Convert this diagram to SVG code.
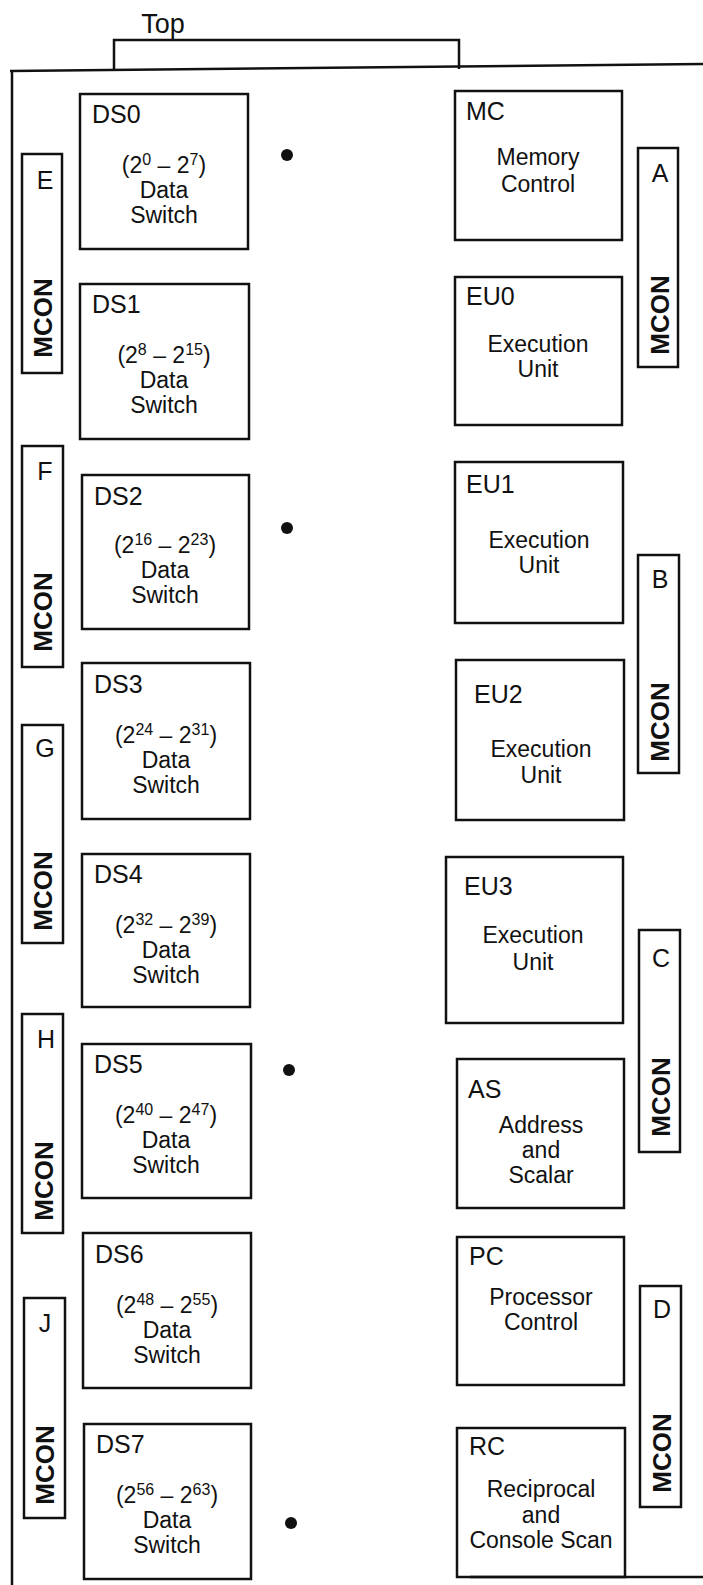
<svg xmlns="http://www.w3.org/2000/svg" width="703" height="1585" viewBox="0 0 703 1585">
<style>
.bx{fill:none;stroke:#111;stroke-width:2.5}
.ln{fill:none;stroke:#111;stroke-width:2.5}
text{font-family:"Liberation Sans",Arial,sans-serif;fill:#111}
.lab{font-size:25px}
.body{font-size:23px;text-anchor:middle}
.sup{font-size:16px}
.mc{font-size:26px;font-weight:bold;text-anchor:middle}
.let{font-size:25px;text-anchor:middle}
.dot{fill:#111}
</style>
<rect width="703" height="1585" fill="#fff"/>
<g id="frame">
<text x="163" y="33" font-size="27" text-anchor="middle">Top</text>
<polyline class="ln" points="114,70 114,40 459,40 459,69"/>
<polyline class="ln" points="10,71 703,64"/>
<line class="ln" x1="12" y1="70" x2="12" y2="1585"/>
<line class="ln" x1="470" y1="1577" x2="703" y2="1577"/>
</g>
<g id="connectors"></g>
<g id="DS0"><rect class="bx" x="80" y="94" width="168" height="155"/><text class="lab" x="92" y="123">DS0</text><text class="body" x="164" y="173">(2<tspan class="sup" dy="-8">0</tspan><tspan dy="8"> – 2</tspan><tspan class="sup" dy="-8">7</tspan><tspan dy="8">)</tspan></text><text class="body" x="164" y="198">Data</text><text class="body" x="164" y="223">Switch</text></g>
<g id="DS1"><rect class="bx" x="80" y="284" width="169" height="155"/><text class="lab" x="92" y="313">DS1</text><text class="body" x="164" y="363">(2<tspan class="sup" dy="-8">8</tspan><tspan dy="8"> – 2</tspan><tspan class="sup" dy="-8">15</tspan><tspan dy="8">)</tspan></text><text class="body" x="164" y="388">Data</text><text class="body" x="164" y="413">Switch</text></g>
<g id="DS2"><rect class="bx" x="82" y="475" width="167" height="154"/><text class="lab" x="94" y="505">DS2</text><text class="body" x="165" y="553">(2<tspan class="sup" dy="-8">16</tspan><tspan dy="8"> – 2</tspan><tspan class="sup" dy="-8">23</tspan><tspan dy="8">)</tspan></text><text class="body" x="165" y="578">Data</text><text class="body" x="165" y="603">Switch</text></g>
<g id="DS3"><rect class="bx" x="82" y="663" width="168" height="156"/><text class="lab" x="94" y="693">DS3</text><text class="body" x="166" y="743">(2<tspan class="sup" dy="-8">24</tspan><tspan dy="8"> – 2</tspan><tspan class="sup" dy="-8">31</tspan><tspan dy="8">)</tspan></text><text class="body" x="166" y="768">Data</text><text class="body" x="166" y="793">Switch</text></g>
<g id="DS4"><rect class="bx" x="82" y="854" width="168" height="153"/><text class="lab" x="94" y="883">DS4</text><text class="body" x="166" y="933">(2<tspan class="sup" dy="-8">32</tspan><tspan dy="8"> – 2</tspan><tspan class="sup" dy="-8">39</tspan><tspan dy="8">)</tspan></text><text class="body" x="166" y="958">Data</text><text class="body" x="166" y="983">Switch</text></g>
<g id="DS5"><rect class="bx" x="82" y="1044" width="169" height="154"/><text class="lab" x="94" y="1073">DS5</text><text class="body" x="166" y="1123">(2<tspan class="sup" dy="-8">40</tspan><tspan dy="8"> – 2</tspan><tspan class="sup" dy="-8">47</tspan><tspan dy="8">)</tspan></text><text class="body" x="166" y="1148">Data</text><text class="body" x="166" y="1173">Switch</text></g>
<g id="DS6"><rect class="bx" x="83" y="1233" width="168" height="155"/><text class="lab" x="95" y="1263">DS6</text><text class="body" x="167" y="1313">(2<tspan class="sup" dy="-8">48</tspan><tspan dy="8"> – 2</tspan><tspan class="sup" dy="-8">55</tspan><tspan dy="8">)</tspan></text><text class="body" x="167" y="1338">Data</text><text class="body" x="167" y="1363">Switch</text></g>
<g id="DS7"><rect class="bx" x="84" y="1424" width="167" height="155"/><text class="lab" x="96" y="1453">DS7</text><text class="body" x="167" y="1503">(2<tspan class="sup" dy="-8">56</tspan><tspan dy="8"> – 2</tspan><tspan class="sup" dy="-8">63</tspan><tspan dy="8">)</tspan></text><text class="body" x="167" y="1528">Data</text><text class="body" x="167" y="1553">Switch</text></g>
<g id="MC"><rect class="bx" x="455" y="91" width="167" height="149"/><text class="lab" x="466" y="120">MC</text><text class="body" x="538" y="165">Memory</text><text class="body" x="538" y="192">Control</text></g>
<g id="EU0"><rect class="bx" x="455" y="277" width="167" height="148"/><text class="lab" x="466" y="305">EU0</text><text class="body" x="538" y="352">Execution</text><text class="body" x="538" y="377">Unit</text></g>
<g id="EU1"><rect class="bx" x="455" y="462" width="168" height="161"/><text class="lab" x="466" y="493">EU1</text><text class="body" x="539" y="548">Execution</text><text class="body" x="539" y="573">Unit</text></g>
<g id="EU2"><rect class="bx" x="456" y="660" width="168" height="160"/><text class="lab" x="474" y="703">EU2</text><text class="body" x="541" y="757">Execution</text><text class="body" x="541" y="783">Unit</text></g>
<g id="EU3"><rect class="bx" x="446" y="857" width="177" height="166"/><text class="lab" x="464" y="895">EU3</text><text class="body" x="533" y="943">Execution</text><text class="body" x="533" y="970">Unit</text></g>
<g id="AS"><rect class="bx" x="457" y="1059" width="167" height="149"/><text class="lab" x="468" y="1098">AS</text><text class="body" x="541" y="1133">Address</text><text class="body" x="541" y="1158">and</text><text class="body" x="541" y="1183">Scalar</text></g>
<g id="PC"><rect class="bx" x="457" y="1237" width="167" height="148"/><text class="lab" x="469" y="1265">PC</text><text class="body" x="541" y="1305">Processor</text><text class="body" x="541" y="1330">Control</text></g>
<g id="RC"><rect class="bx" x="457" y="1428" width="168" height="149"/><text class="lab" x="469" y="1455">RC</text><text class="body" x="541" y="1497">Reciprocal</text><text class="body" x="541" y="1523">and</text><text class="body" x="541" y="1548">Console Scan</text></g>
<g id="MCON-E"><rect class="bx" x="22" y="154" width="40" height="219"/><text class="let" x="45" y="189">E</text><text class="mc" transform="translate(52,318) rotate(-90)">MCON</text></g>
<g id="MCON-F"><rect class="bx" x="22" y="446" width="41" height="221"/><text class="let" x="45" y="480">F</text><text class="mc" transform="translate(52,612) rotate(-90)">MCON</text></g>
<g id="MCON-G"><rect class="bx" x="22" y="725" width="41" height="218"/><text class="let" x="45" y="757">G</text><text class="mc" transform="translate(52,891) rotate(-90)">MCON</text></g>
<g id="MCON-H"><rect class="bx" x="22" y="1014" width="41" height="219"/><text class="let" x="46" y="1048">H</text><text class="mc" transform="translate(53,1181) rotate(-90)">MCON</text></g>
<g id="MCON-J"><rect class="bx" x="24" y="1298" width="41" height="220"/><text class="let" x="45" y="1332">J</text><text class="mc" transform="translate(54,1465) rotate(-90)">MCON</text></g>
<g id="MCON-A"><rect class="bx" x="638" y="148" width="40" height="219"/><text class="let" x="660" y="182">A</text><text class="mc" transform="translate(669,315) rotate(-90)">MCON</text></g>
<g id="MCON-B"><rect class="bx" x="638" y="555" width="41" height="218"/><text class="let" x="660" y="588">B</text><text class="mc" transform="translate(669,722) rotate(-90)">MCON</text></g>
<g id="MCON-C"><rect class="bx" x="639" y="930" width="41" height="222"/><text class="let" x="661" y="967">C</text><text class="mc" transform="translate(670,1097) rotate(-90)">MCON</text></g>
<g id="MCON-D"><rect class="bx" x="640" y="1286" width="41" height="221"/><text class="let" x="662" y="1318">D</text><text class="mc" transform="translate(671,1453) rotate(-90)">MCON</text></g>
<g id="dots"><circle class="dot" cx="287" cy="155" r="6"/><circle class="dot" cx="287" cy="528" r="6"/><circle class="dot" cx="289" cy="1070" r="6"/><circle class="dot" cx="291" cy="1523" r="6"/></g>
</svg>
